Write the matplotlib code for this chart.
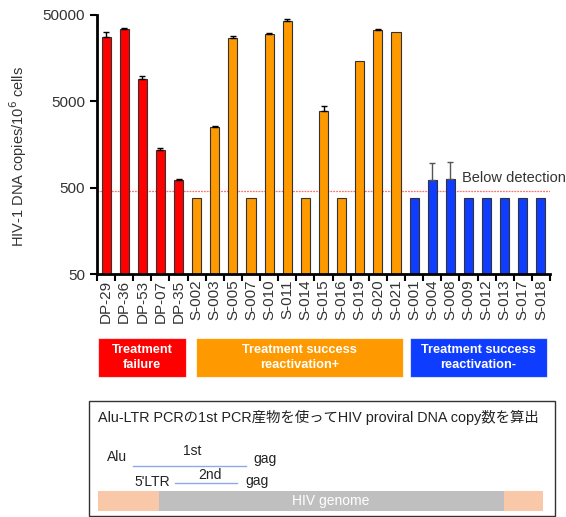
import matplotlib
matplotlib.use("Agg")
import matplotlib.pyplot as plt
from matplotlib.patches import Rectangle
import numpy as np

plt.rcParams['font.family'] = ['Liberation Sans', 'Noto Sans CJK JP', 'DejaVu Sans']

samples = ["DP-29", "DP-36", "DP-53", "DP-07", "DP-35",
           "S-002", "S-003", "S-005", "S-007", "S-010", "S-011", "S-014",
           "S-015", "S-016", "S-019", "S-020", "S-021",
           "S-001", "S-004", "S-008", "S-009", "S-012", "S-013", "S-017", "S-018"]
groups = ["failure"] * 5 + ["success+"] * 12 + ["success-"] * 8
values = [27650, 34200, 9170, 1370, 620,
          380, 2540, 26900, 380, 30000, 43000, 380,
          3870, 380, 14700, 33600, 31600,
          380, 614, 630, 380, 380, 380, 380, 380]
err_upper = [3950, 800, 760, 60, 15,
             0, 80, 1400, 0, 600, 1900, 0,
             550, 0, 0, 900, 0,
             0, 344, 370, 0, 0, 0, 0, 0]
detection_limit = 461
yticks = [50, 500, 5000, 50000]
group_colors = {"failure": "#ff0000", "success+": "#ff9900", "success-": "#0f3dff"}
group_labels = ["Treatment\nfailure", "Treatment success\nreactivation+", "Treatment success\nreactivation-"]

W, H = 566, 517
fig = plt.figure(figsize=(W / 100, H / 100), dpi=100)

def fx(px):
    return px / W

def fy(py):
    return 1 - py / H

ax = fig.add_axes([fx(97), fy(274), fx(550) - fx(97), fy(15) - fy(274)])
x = np.arange(len(samples))
colors = [group_colors[g] for g in groups]
ecols = ['#555555' if g == "success-" else 'black' for g in groups]
ax.bar(x, values, width=0.5, color=colors, edgecolor='#333333', linewidth=0.8, zorder=2)
for i in range(len(x)):
    if err_upper[i] > 0:
        ax.errorbar(x[i], values[i], yerr=[[0], [err_upper[i]]], fmt='none',
                    ecolor=ecols[i], elinewidth=1.0, capsize=2.5, capthick=1.0, zorder=3)
ax.set_yscale('log')
ax.set_ylim(50, 50000)
ax.set_xlim(-0.5, len(samples) - 0.5)
ax.set_yticks(yticks)
ax.set_yticklabels([str(t) for t in yticks], fontsize=11, color='#333333')
ax.yaxis.set_minor_locator(matplotlib.ticker.NullLocator())
ax.set_xticks(x)
ax.set_xticklabels(samples, rotation=90, fontsize=11, color='#333333')
ax.tick_params(axis='x', length=0, pad=4)
ax.set_xticks(np.arange(len(samples) + 1) - 0.5, minor=True)
ax.tick_params(axis='x', which='minor', length=5, width=1.5, direction='out')
ax.tick_params(axis='y', length=5, width=1.5, direction='out')
for s in ['top', 'right']:
    ax.spines[s].set_visible(False)
for s in ['left', 'bottom']:
    ax.spines[s].set_linewidth(2)
ax.axhline(detection_limit, color='#ff7070', lw=0.9, ls=(0, (1.5, 0.8)), zorder=1)
fig.text(fx(462), fy(178), "Below detection", fontsize=10.5,
         color='#333333', va='center', ha='left')
ax.set_ylabel("HIV-1 DNA copies/10$^6$ cells", fontsize=10.5, color='#333333')
ax.yaxis.set_label_coords(fx(18) - fx(97), (fy(157) - fy(274)) / (fy(15) - fy(274)),
                          transform=None)
ax.yaxis.label.set_transform(fig.transFigure)
ax.yaxis.label.set_position((fx(18), fy(157)))
ax.yaxis.label.set_va('center')

# group boxes
boxes = [(98, 186), (196, 403), (410, 547)]
box_cols = [group_colors["failure"], group_colors["success+"], group_colors["success-"]]
for (x0, x1), c, lab in zip(boxes, box_cols, group_labels):
    fig.add_artist(Rectangle((fx(x0), fy(377)), fx(x1) - fx(x0), fy(338) - fy(377),
                             transform=fig.transFigure, facecolor=c, edgecolor='#ffffffaa', lw=0.8))
    fig.text(fx((x0 + x1) / 2), fy(357.5), lab, ha='center', va='center', color='white',
             fontsize=9.2, fontweight='bold', linespacing=1.35)

# bottom diagram
fig.add_artist(Rectangle((fx(89), fy(516)), fx(555) - fx(89), fy(401) - fy(516),
                         transform=fig.transFigure, facecolor='white', edgecolor='#333333', lw=1.0))
fig.text(fx(98), fy(417), "Alu-LTR PCRの1st PCR産物を使ってHIV proviral DNA copy数を算出",
         fontsize=10.4, ha='left', va='center', color='#222222')
fig.text(fx(107), fy(457), "Alu", fontsize=10, ha='left', va='center', color='#222222')
fig.add_artist(plt.Line2D([fx(133), fx(246)], [fy(466), fy(466)], transform=fig.transFigure,
                          color='#8ea9e8', lw=1))
fig.text(fx(192), fy(451), "1st", fontsize=10, ha='center', va='center', color='#222222')
fig.text(fx(253), fy(459), "gag", fontsize=10, ha='left', va='center', color='#222222')
fig.text(fx(134), fy(482), "5'LTR", fontsize=10, ha='left', va='center', color='#222222')
fig.add_artist(plt.Line2D([fx(175), fx(237)], [fy(483), fy(483)], transform=fig.transFigure,
                          color='#8ea9e8', lw=1))
fig.text(fx(210), fy(475), "2nd", fontsize=10, ha='center', va='center', color='#222222')
fig.text(fx(245), fy(481), "gag", fontsize=10, ha='left', va='center', color='#222222')
fig.add_artist(Rectangle((fx(98), fy(511)), fx(543) - fx(98), fy(491) - fy(511),
                         transform=fig.transFigure, facecolor='#f8c8a8', edgecolor='none'))
fig.add_artist(Rectangle((fx(159), fy(511)), fx(504) - fx(159), fy(491) - fy(511),
                         transform=fig.transFigure, facecolor='#bfbfbf', edgecolor='none'))
fig.text(fx(331), fy(501), "HIV genome", fontsize=10, ha='center', va='center', color='white')

fig.savefig("out.png", dpi=100)
